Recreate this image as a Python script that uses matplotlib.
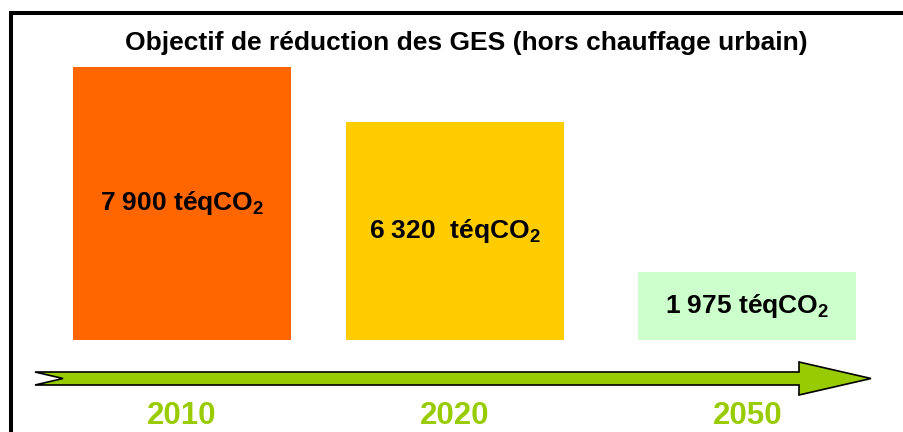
import matplotlib.pyplot as plt
from matplotlib.patches import Polygon

plt.rcParams['font.family'] = ['Liberation Sans', 'DejaVu Sans']
plt.rcParams['mathtext.fontset'] = 'custom'
plt.rcParams['mathtext.rm'] = 'Liberation Sans'
plt.rcParams['mathtext.bf'] = 'Liberation Sans:bold'

# data
years = ['2010', '2020', '2050']
values = [7900, 6320, 1975]
labels = [r'7 900 téqCO$_\mathbf{2}$', r'6 320  téqCO$_\mathbf{2}$', r'1 975 téqCO$_\mathbf{2}$']
colors = ['#FF6600', '#FFCC00', '#CCFFCC']
title = 'Objectif de réduction des GES (hors chauffage urbain)'

# layout (pixels of the 904x432 canvas)
W, H = 904, 432
bar_x = [182, 455, 747.5]
bar_w = 218
base_y, top_y = 340, 67
green = '#99CC00'

fig = plt.figure(figsize=(W / 100, H / 100), dpi=100)

# background / decoration axes in pixel coordinates
bg = fig.add_axes([0, 0, 1, 1])
bg.set_xlim(0, W)
bg.set_ylim(H, 0)
bg.axis('off')

# frame (left + top)
bg.plot([11, 11, W], [H, 13, 13], color='black', lw=2.9,
        solid_joinstyle='miter', solid_capstyle='butt')

# timeline arrow
arrow = [(35, 372), (63, 378.5), (35, 385), (799, 385), (799, 395),
         (871, 378.5), (799, 362), (799, 372)]
bg.add_patch(Polygon(arrow, closed=True, facecolor=green, edgecolor='black', lw=1.2))

bg.text(466, 50, title, ha='center', va='baseline', fontsize=19, fontweight='bold')

for x, y in zip(bar_x, years):
    bg.text(x, 424, y, ha='center', va='baseline', fontsize=22.5,
            fontweight='bold', color=green)

# bars axes: y=0 at base_y, y=max at top_y
ax = fig.add_axes([0, (H - base_y) / H, 1, (base_y - top_y) / H])
ax.set_xlim(0, W)
ax.set_ylim(0, max(values))
ax.axis('off')
ax.bar(bar_x, values, width=bar_w, color=colors)
for x, v, lab in zip(bar_x, values, labels):
    ax.text(x, v / 2, lab, ha='center', va='center', fontsize=19, fontweight='bold')

fig.savefig('out.png', dpi=100)
